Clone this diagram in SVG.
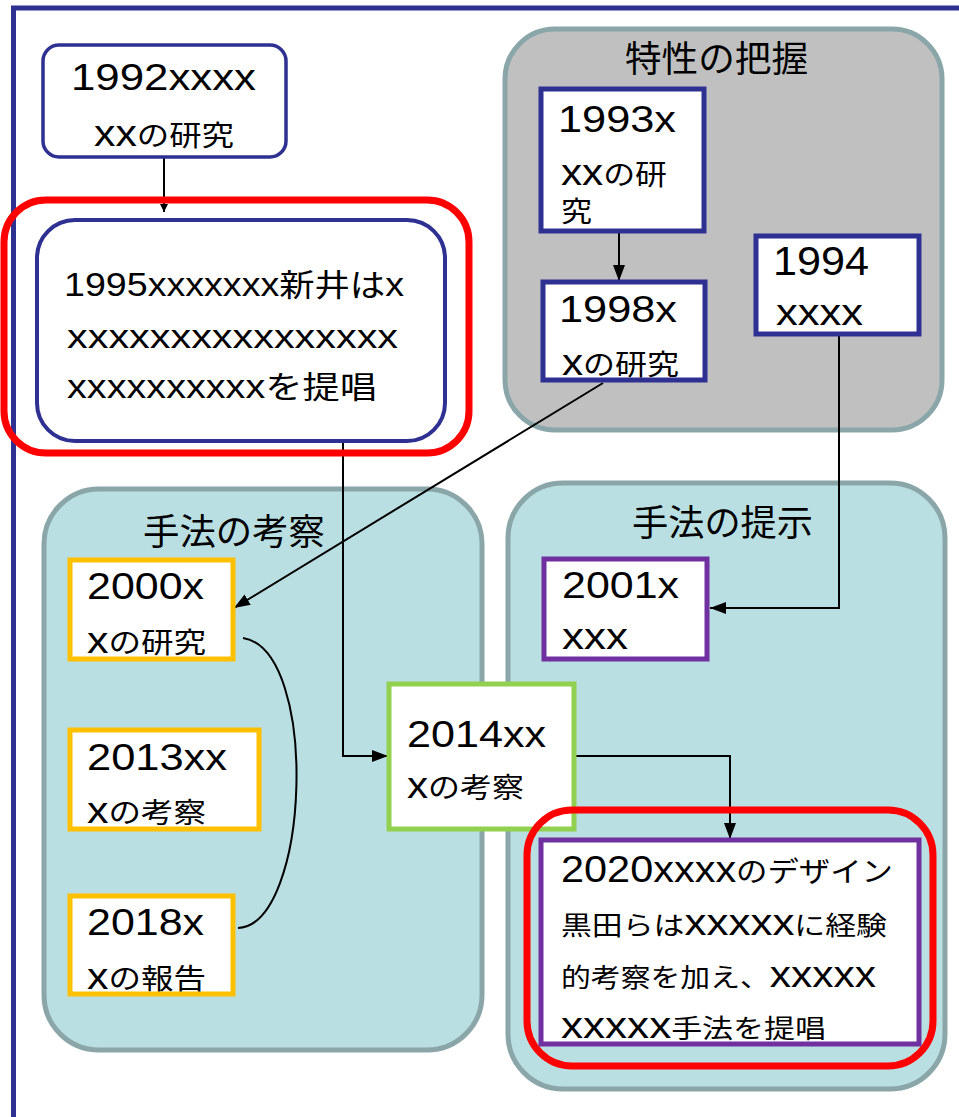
<svg xmlns="http://www.w3.org/2000/svg" width="959" height="1117" viewBox="0 0 959 1117">
<defs>
<style>
text{font-family:"Liberation Sans","Noto Sans CJK JP",sans-serif;fill:#000}
.j{font-family:"Noto Sans CJK JP",sans-serif}
.grp{stroke:#8aa6a9;stroke-width:5}
.navy{fill:#fff;stroke:#2e3192}
.org{fill:#fff;stroke:#ffc000;stroke-width:5}
.grn{fill:#fff;stroke:#92d050;stroke-width:5}
.pur{fill:#fff;stroke:#7030a0;stroke-width:5}
.red{fill:none;stroke:#ff0000;stroke-width:7}
.con{fill:none;stroke:#000;stroke-width:2}
.title{font-family:"Noto Sans CJK JP",sans-serif;font-size:36px}
</style>
<marker id="ah" viewBox="0 0 16 12" refX="16" refY="6" markerWidth="16" markerHeight="13" markerUnits="userSpaceOnUse" orient="auto"><path d="M0,0 L16,6 L0,12 z" fill="#000"/></marker>
<marker id="ahs" viewBox="0 0 8 8" refX="8" refY="4" markerWidth="8" markerHeight="8" markerUnits="userSpaceOnUse" orient="auto"><path d="M0,0 L8,4 L0,8 z" fill="#000"/></marker>
</defs>
<rect x="0" y="0" width="959" height="1117" fill="#fff"/>
<rect id="frame" x="13.5" y="8" width="1000" height="1200" fill="none" stroke="#2e3192" stroke-width="5"/>

<g id="group-tokusei">
<rect x="505" y="29" width="437" height="401" rx="50" fill="#c0c0c0" class="grp"/>
<text class="title" x="625" y="72" textLength="183" lengthAdjust="spacingAndGlyphs">特性の把握</text>
</g>
<g id="group-kousatsu">
<rect x="44" y="489" width="438" height="561" rx="55" fill="#badfe2" class="grp"/>
<text class="title" x="143" y="545" textLength="182" lengthAdjust="spacingAndGlyphs">手法の考察</text>
</g>
<g id="group-teiji">
<rect x="508" y="483" width="437" height="606" rx="55" fill="#badfe2" class="grp"/>
<text class="title" x="632" y="536" textLength="181" lengthAdjust="spacingAndGlyphs">手法の提示</text>
</g>

<g id="connectors">
<path class="con" stroke-width="1.5" d="M164,158 L164,212" marker-end="url(#ahs)"/>
<path class="con" d="M619,232 L619,281" marker-end="url(#ah)"/>
<path class="con" d="M603,383 L234,608" marker-end="url(#ah)"/>
<path class="con" d="M839,335 L839,608 L710,608" marker-end="url(#ah)"/>
<path class="con" d="M343,442 L343,756 L388,756" marker-end="url(#ah)"/>
<path class="con" d="M575,756 L730,756 L730,839" marker-end="url(#ah)"/>
<path class="con" stroke-width="1.5" d="M243,638 C320,650 310,925 238,928"/>
</g>

<g id="n1992">
<rect class="navy" stroke-width="3.5" x="43" y="45" width="243" height="112" rx="16"/>
<text x="71" y="90" font-size="37" textLength="185" lengthAdjust="spacingAndGlyphs">1992xxxx</text>
<text x="94" y="146" font-size="37" textLength="140" lengthAdjust="spacingAndGlyphs">xx<tspan class="j" font-size="28">の研究</tspan></text>
</g>

<g id="n1995">
<rect class="red" x="4" y="200" width="465" height="253" rx="42"/>
<rect class="navy" stroke-width="4" x="37" y="220" width="408" height="221" rx="38"/>
<text x="64" y="296" font-size="33" textLength="340" lengthAdjust="spacingAndGlyphs">1995xxxxxxx<tspan class="j" font-size="31">新井は</tspan>x</text>
<text x="67" y="348" font-size="33" textLength="331" lengthAdjust="spacingAndGlyphs">xxxxxxxxxxxxxxxx</text>
<text x="67" y="398" font-size="33" textLength="310" lengthAdjust="spacingAndGlyphs">xxxxxxxxxx<tspan class="j" font-size="31">を提唱</tspan></text>
</g>

<g id="n1993">
<rect class="navy" stroke-width="5" x="541" y="89" width="163" height="142"/>
<text x="558" y="132" font-size="37" textLength="118" lengthAdjust="spacingAndGlyphs">1993x</text>
<text x="561" y="185" font-size="37" textLength="106" lengthAdjust="spacingAndGlyphs">xx<tspan class="j" font-size="28">の研</tspan></text>
<text class="j" x="561" y="222" font-size="28" textLength="31" lengthAdjust="spacingAndGlyphs">究</text>
</g>

<g id="n1998">
<rect class="navy" stroke-width="5" x="543" y="282" width="162" height="98"/>
<text x="559" y="322" font-size="37" textLength="118" lengthAdjust="spacingAndGlyphs">1998x</text>
<text x="562" y="375" font-size="37" textLength="117" lengthAdjust="spacingAndGlyphs">x<tspan class="j" font-size="28">の研究</tspan></text>
</g>

<g id="n1994">
<rect class="navy" stroke-width="5" x="756" y="236" width="163" height="98"/>
<text x="773" y="275" font-size="40" textLength="96" lengthAdjust="spacingAndGlyphs">1994</text>
<text x="776" y="325" font-size="37" textLength="87" lengthAdjust="spacingAndGlyphs">xxxx</text>
</g>

<g id="n2000">
<rect class="org" x="70" y="560" width="163" height="99"/>
<text x="87" y="599" font-size="37" textLength="117" lengthAdjust="spacingAndGlyphs">2000x</text>
<text x="87" y="653" font-size="37" textLength="119" lengthAdjust="spacingAndGlyphs">x<tspan class="j" font-size="28">の研究</tspan></text>
</g>

<g id="n2013">
<rect class="org" x="70" y="730" width="189" height="99"/>
<text x="87" y="770" font-size="37" textLength="140" lengthAdjust="spacingAndGlyphs">2013xx</text>
<text x="87" y="823" font-size="37" textLength="119" lengthAdjust="spacingAndGlyphs">x<tspan class="j" font-size="28">の考察</tspan></text>
</g>

<g id="n2018">
<rect class="org" x="70" y="896" width="163" height="98"/>
<text x="87" y="935" font-size="37" textLength="117" lengthAdjust="spacingAndGlyphs">2018x</text>
<text x="87" y="989" font-size="37" textLength="119" lengthAdjust="spacingAndGlyphs">x<tspan class="j" font-size="28">の報告</tspan></text>
</g>

<g id="n2014">
<rect class="grn" x="389" y="684" width="185" height="145"/>
<text x="407" y="747" font-size="37" textLength="139" lengthAdjust="spacingAndGlyphs">2014xx</text>
<text x="407" y="798" font-size="37" textLength="117" lengthAdjust="spacingAndGlyphs">x<tspan class="j" font-size="28">の考察</tspan></text>
</g>

<g id="n2001">
<rect class="pur" x="544" y="559" width="163" height="100"/>
<text x="562" y="598" font-size="37" textLength="117" lengthAdjust="spacingAndGlyphs">2001x</text>
<text x="562" y="649" font-size="37" textLength="66" lengthAdjust="spacingAndGlyphs">xxx</text>
</g>

<g id="n2020">
<rect class="red" x="527" y="810" width="406" height="256" rx="45"/>
<rect class="pur" x="541" y="840" width="378" height="204"/>
<text x="561" y="882" font-size="37" textLength="332" lengthAdjust="spacingAndGlyphs">2020xxxx<tspan class="j" font-size="28">のデザイン</tspan></text>
<text x="561" y="935" font-size="37" textLength="326" lengthAdjust="spacingAndGlyphs"><tspan class="j" font-size="26">黒田らは</tspan>xxxxx<tspan class="j" font-size="26">に経験</tspan></text>
<text x="561" y="987" font-size="37" textLength="315" lengthAdjust="spacingAndGlyphs"><tspan class="j" font-size="26">的考察を加え、</tspan>xxxxx</text>
<text x="561" y="1038" font-size="37" textLength="265" lengthAdjust="spacingAndGlyphs">xxxxx<tspan class="j" font-size="26">手法を提唱</tspan></text>
</g>
</svg>
